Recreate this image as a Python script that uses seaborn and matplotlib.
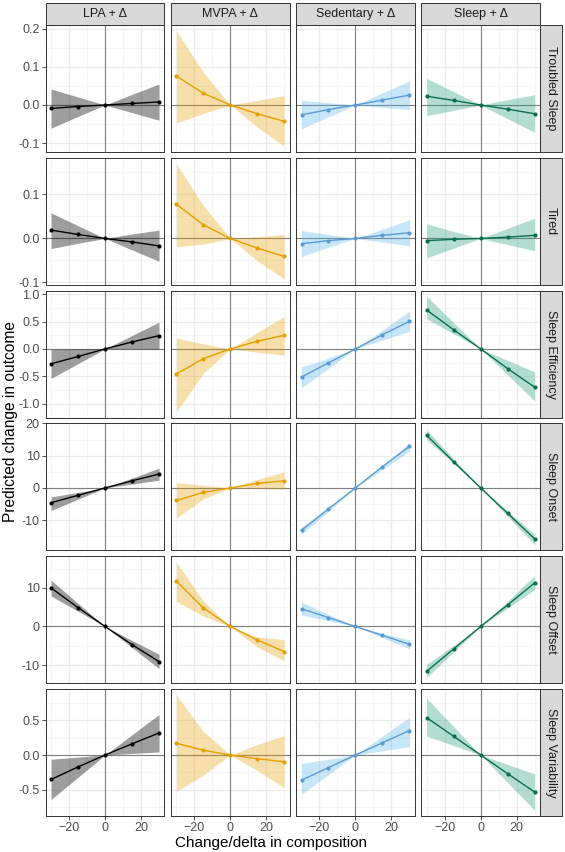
import numpy as np
import pandas as pd
import matplotlib
matplotlib.use("Agg")
import matplotlib.pyplot as plt
import seaborn as sns
from matplotlib.patches import Rectangle
from matplotlib.ticker import AutoMinorLocator, FormatStrFormatter

# reallocation deltas (minutes)
delta = [-30, -15, 0, 15, 30]
compositions = ["LPA + Δ", "MVPA + Δ", "Sedentary + Δ", "Sleep + Δ"]
outcomes = ["Troubled Sleep", "Tired", "Sleep Efficiency", "Sleep Onset",
            "Sleep Offset", "Sleep Variability"]

# each list: one row per composition (LPA, MVPA, Sedentary, Sleep)
troubled_est = [[-0.009, -0.004, 0, 0.004, 0.008],
                [0.076, 0.031, 0, -0.023, -0.043],
                [-0.026, -0.012, 0, 0.013, 0.026],
                [0.023, 0.012, 0, -0.011, -0.023]]
troubled_lo = [[-0.061, -0.030, 0, -0.020, -0.040],
               [-0.048, -0.022, 0, -0.058, -0.108],
               [-0.063, -0.031, 0, -0.006, -0.012],
               [-0.028, -0.014, 0, -0.036, -0.072]]
troubled_hi = [[0.042, 0.021, 0, 0.028, 0.055],
               [0.195, 0.086, 0, 0.012, 0.025],
               [0.012, 0.006, 0, 0.032, 0.063],
               [0.070, 0.035, 0, 0.014, 0.027]]

tired_est = [[0.019, 0.009, 0, -0.008, -0.017],
             [0.078, 0.031, 0, -0.022, -0.041],
             [-0.012, -0.005, 0, 0.007, 0.013],
             [-0.005, -0.002, 0, 0.003, 0.007]]
tired_lo = [[-0.023, -0.011, 0, -0.026, -0.052],
            [-0.019, -0.013, 0, -0.051, -0.092],
            [-0.041, -0.020, 0, -0.008, -0.017],
            [-0.044, -0.022, 0, -0.014, -0.028]]
tired_hi = [[0.058, 0.029, 0, 0.010, 0.019],
            [0.170, 0.075, 0, 0.004, 0.009],
            [0.018, 0.009, 0, 0.021, 0.042],
            [0.033, 0.016, 0, 0.023, 0.046]]

eff_est = [[-0.273, -0.139, 0, 0.127, 0.242],
           [-0.46, -0.18, 0, 0.14, 0.248],
           [-0.515, -0.255, 0, 0.26, 0.503],
           [0.71, 0.35, 0, -0.36, -0.70]]
eff_lo = [[-0.54, -0.27, 0, 0.0, -0.005],
          [-1.15, -0.45, 0, -0.06, -0.115],
          [-0.71, -0.355, 0, 0.16, 0.32],
          [0.55, 0.275, 0, -0.475, -0.95]]
eff_hi = [[-0.005, 0.0, 0, 0.245, 0.49],
          [0.20, 0.09, 0, 0.30, 0.59],
          [-0.33, -0.165, 0, 0.345, 0.69],
          [0.96, 0.48, 0, -0.21, -0.42]]

onset_est = [[-4.6, -2.3, 0, 2.2, 4.3],
             [-3.9, -1.4, 0, 1.4, 2.2],
             [-13.2, -6.5, 0, 6.6, 12.9],
             [16.3, 8.1, 0, -7.9, -15.8]]
onset_lo = [[-7.0, -3.5, 0, 1.2, 2.4],
            [-9.4, -3.4, 0, -0.1, -0.4],
            [-14.4, -7.2, 0, 5.7, 11.4],
            [15.0, 7.5, 0, -8.8, -17.6]]
onset_hi = [[-2.8, -1.4, 0, 3.05, 6.1],
            [1.6, 0.8, 0, 2.6, 5.0],
            [-12.1, -6.0, 0, 7.0, 14.0],
            [18.0, 9.0, 0, -7.2, -14.4]]

offset_est = [[10.0, 4.9, 0, -4.7, -9.1],
              [11.8, 4.8, 0, -3.5, -6.5],
              [4.6, 2.3, 0, -2.3, -4.6],
              [-11.6, -5.8, 0, 5.6, 11.3]]
offset_lo = [[7.9, 3.95, 0, -5.45, -10.9],
             [6.5, 2.7, 0, -5.3, -8.9],
             [3.0, 1.5, 0, -2.9, -5.8],
             [-13.2, -6.6, 0, 4.8, 9.6]]
offset_hi = [[12.0, 6.0, 0, -3.6, -7.2],
             [16.7, 6.6, 0, -2.7, -3.4],
             [6.3, 3.15, 0, -1.75, -3.5],
             [-9.8, -4.9, 0, 6.6, 13.2]]

var_est = [[-0.35, -0.17, 0, 0.16, 0.315],
           [0.17, 0.068, 0, -0.053, -0.097],
           [-0.36, -0.18, 0, 0.175, 0.35],
           [0.534, 0.267, 0, -0.267, -0.53]]
var_lo = [[-0.636, -0.318, 0, 0.022, 0.044],
          [-0.52, -0.29, 0, -0.22, -0.47],
          [-0.56, -0.28, 0, 0.06, 0.12],
          [0.27, 0.135, 0, -0.395, -0.79]]
var_hi = [[-0.06, -0.03, 0, 0.29, 0.58],
          [0.86, 0.34, 0, 0.15, 0.277],
          [-0.12, -0.06, 0, 0.27, 0.54],
          [0.81, 0.405, 0, -0.135, -0.27]]

y_ticks = [[-0.1, 0.0, 0.1, 0.2], [-0.1, 0.0, 0.1], [-1.0, -0.5, 0.0, 0.5, 1.0],
           [-10, 0, 10, 20], [-10, 0, 10], [-0.5, 0.0, 0.5]]
y_fmt = ["%.1f", "%.1f", "%.1f", "%d", "%d", "%.1f"]

line_cols = ["#000000", "#E69F00", "#5B9BD5", "#0B6E4F"]
fill_cols = ["#000000", "#E69F00", "#56B4E9", "#1A9A76"]

tables = [(troubled_est, troubled_lo, troubled_hi), (tired_est, tired_lo, tired_hi),
          (eff_est, eff_lo, eff_hi), (onset_est, onset_lo, onset_hi),
          (offset_est, offset_lo, offset_hi), (var_est, var_lo, var_hi)]

rows = []
for o, (est, lo, hi) in zip(outcomes, tables):
    for c, comp in enumerate(compositions):
        for j, d in enumerate(delta):
            rows.append({"outcome": o, "composition": comp, "delta": d,
                         "est": est[c][j], "lo": lo[c][j], "hi": hi[c][j]})
df = pd.DataFrame(rows)

sns.set_theme(style="white")
plt.rcParams["font.family"] = ["Liberation Sans", "DejaVu Sans"]


def draw_panel(data, color=None, **kws):
    ax = plt.gca()
    k = compositions.index(data["composition"].iloc[0])
    ax.axhline(0, color="#7F7F7F", lw=0.8, zorder=1)
    ax.axvline(0, color="#7F7F7F", lw=0.8, zorder=1)
    ax.fill_between(data["delta"], data["lo"], data["hi"], color=fill_cols[k],
                    alpha=0.33 if k else 0.38, lw=0, zorder=2)
    sns.lineplot(data=data, x="delta", y="est", color=line_cols[k], lw=1.0,
                 marker="o", markersize=3.0, markeredgewidth=0, errorbar=None,
                 ax=ax, zorder=3)


g = sns.FacetGrid(df, row="outcome", col="composition", row_order=outcomes,
                  col_order=compositions, sharex=True, sharey="row",
                  despine=False, height=1.3, aspect=0.93)
g.map_dataframe(draw_panel)
g.set_axis_labels("", "")
for ax in g.axes.flat:
    ax.set_title("")

fig = g.figure
fig.set_size_inches(5.65, 8.52)
W, H = 565, 852
fig.subplots_adjust(left=45.7 / W, right=540 / W, top=1 - 25 / H, bottom=1 - 816 / H,
                    wspace=0.055, hspace=0.047)

for i, axrow in enumerate(g.axes):
    axrow[0].set_yticks(y_ticks[i])
    axrow[0].yaxis.set_major_formatter(FormatStrFormatter(y_fmt[i]))
    for j, ax in enumerate(axrow):
        ax.set_xlim(-33, 33)
        ax.set_xticks([-20, 0, 20])
        ax.xaxis.set_minor_locator(AutoMinorLocator(2))
        ax.yaxis.set_minor_locator(AutoMinorLocator(2))
        ax.set_axisbelow(True)
        ax.grid(which="major", color="#EBEBEB", lw=0.9)
        ax.grid(which="minor", color="#F3F3F3", lw=0.5)
        ax.set_facecolor("white")
        for s in ax.spines.values():
            s.set_color("#333333")
            s.set_linewidth(0.7)
        ax.tick_params(which="major", length=2.8, width=0.6, color="#333333",
                       labelsize=9, labelcolor="#4D4D4D", pad=1.5,
                       left=(j == 0), bottom=(i == len(outcomes) - 1))
        ax.tick_params(which="minor", length=0)
        ax.set_xlabel("")
        ax.set_ylabel("")

# strips
pw = (540 - 45.7 - 3 * 0.055 * 118.3) / 4
ph = (816 - 25) / (6 + 5 * 0.047)
for j, ax in enumerate(g.axes[0]):
    ax.add_patch(Rectangle((0, 1), 1, 22 / ph, transform=ax.transAxes, clip_on=False,
                           fc="#D9D9D9", ec="#333333", lw=0.7))
    ax.text(0.5, 1 + 11 / ph, compositions[j], transform=ax.transAxes, ha="center",
            va="center", fontsize=9, color="#1A1A1A")
for i, ax in enumerate(g.axes[:, -1]):
    ax.add_patch(Rectangle((1, 0), 22 / pw, 1, transform=ax.transAxes, clip_on=False,
                           fc="#D9D9D9", ec="#333333", lw=0.7))
    ax.text(1 + 11 / pw, 0.5, outcomes[i], transform=ax.transAxes, ha="center",
            va="center", rotation=270, fontsize=9, color="#1A1A1A")

fig.text(0.018, 1 - 421 / H, "Predicted change in outcome", rotation=90,
         ha="center", va="center", fontsize=11.2, color="black")
fig.text(271 / W, 1 - 843 / H, "Change/delta in composition", ha="center",
         va="center", fontsize=11, color="black")

fig.savefig("out.png", dpi=100, facecolor="white")
